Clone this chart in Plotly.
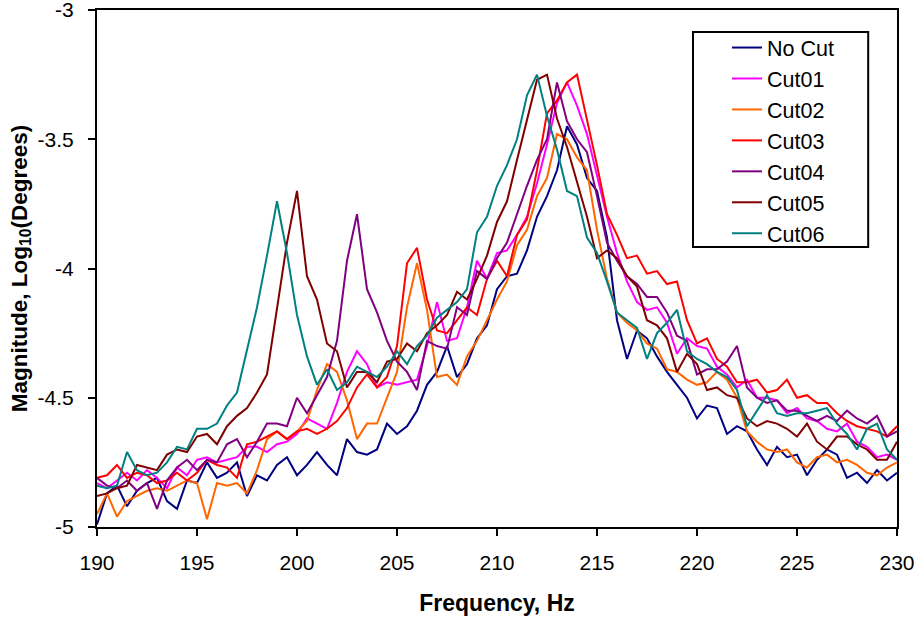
import plotly.graph_objects as go

# Frequency grid (Hz)
freq = [190 + 0.5 * i for i in range(81)]

no_cut = [
    -4.99, -4.87, -4.84, -4.92, -4.86, -4.83, -4.81, -4.90, -4.93, -4.82,
    -4.83, -4.75, -4.81, -4.79, -4.75, -4.88, -4.80, -4.82, -4.76, -4.73,
    -4.80, -4.76, -4.71, -4.76, -4.80, -4.66, -4.71, -4.72, -4.70, -4.60,
    -4.64, -4.61, -4.55, -4.45, -4.40, -4.30, -4.42, -4.37, -4.27, -4.22,
    -4.08, -4.03, -4.02, -3.93, -3.80, -3.72, -3.62, -3.45, -3.52, -3.65,
    -3.70, -3.88, -4.20, -4.35, -4.24, -4.27, -4.34, -4.40, -4.45, -4.50,
    -4.58, -4.53, -4.54, -4.64, -4.61, -4.63, -4.70, -4.76, -4.69, -4.73,
    -4.72, -4.80, -4.74, -4.70, -4.72, -4.81, -4.79, -4.83, -4.78, -4.82,
    -4.79]

cut01 = [
    -4.83, -4.85, -4.82, -4.79, -4.82, -4.78, -4.81, -4.85, -4.77, -4.80,
    -4.74, -4.73, -4.75, -4.74, -4.73, -4.69, -4.69, -4.71, -4.68, -4.67,
    -4.64, -4.58, -4.60, -4.62, -4.52, -4.40, -4.32, -4.37, -4.46, -4.44,
    -4.45, -4.44, -4.43, -4.30, -4.13, -4.28, -4.27, -4.15, -3.97, -4.04,
    -3.94, -3.93, -3.87, -3.80, -3.67, -3.52, -3.36, -3.28, -3.37, -3.48,
    -3.64, -3.80, -3.94, -4.05, -4.13, -4.16, -4.15, -4.21, -4.33, -4.27,
    -4.30, -4.31, -4.38, -4.41, -4.46, -4.43, -4.50, -4.50, -4.51, -4.56,
    -4.54, -4.58, -4.59, -4.62, -4.63, -4.60, -4.67, -4.69, -4.73, -4.72,
    -4.74]

cut02 = [
    -4.95, -4.87, -4.96, -4.90, -4.88, -4.86, -4.85, -4.86, -4.84, -4.82,
    -4.83, -4.97, -4.83, -4.84, -4.83, -4.87, -4.78, -4.66, -4.63, -4.66,
    -4.63, -4.59, -4.47, -4.37, -4.40, -4.51, -4.66, -4.60, -4.60, -4.50,
    -4.40, -4.15, -3.98, -4.16, -4.42, -4.41, -4.45, -4.34, -4.28, -4.20,
    -4.12, -4.05, -3.91, -3.85, -3.72, -3.65, -3.48, -3.50, -3.57, -3.62,
    -3.85, -4.04, -4.17, -4.21, -4.24, -4.29, -4.31, -4.39, -4.40, -4.43,
    -4.45, -4.44, -4.40, -4.43, -4.50, -4.63, -4.67, -4.70, -4.71, -4.70,
    -4.75, -4.77, -4.73, -4.72, -4.75, -4.74, -4.76, -4.79, -4.80, -4.77,
    -4.75]

cut03 = [
    -4.81, -4.80, -4.76, -4.81, -4.79, -4.80, -4.83, -4.82, -4.79, -4.82,
    -4.79, -4.74, -4.76, -4.77, -4.81, -4.68, -4.67, -4.65, -4.63, -4.66,
    -4.63, -4.62, -4.64, -4.62, -4.59, -4.54, -4.46, -4.41, -4.46, -4.42,
    -4.30, -3.98, -3.92, -4.12, -4.24, -4.25, -4.20, -4.15, -4.18, -4.04,
    -3.97, -4.03, -3.87, -3.81, -3.62, -3.40, -3.35, -3.28, -3.25, -3.42,
    -3.60, -3.79, -3.87, -3.96, -3.95, -4.02, -4.01, -4.06, -4.05, -4.20,
    -4.29, -4.27, -4.35, -4.38, -4.44, -4.44, -4.43, -4.48, -4.47, -4.43,
    -4.50, -4.49, -4.52, -4.52, -4.56, -4.59, -4.61, -4.62, -4.63, -4.65,
    -4.61]

cut04 = [
    -4.81, -4.84, -4.85, -4.82, -4.86, -4.83, -4.93, -4.82, -4.77, -4.74,
    -4.78, -4.74, -4.75, -4.68, -4.66, -4.73, -4.67, -4.60, -4.60, -4.61,
    -4.50, -4.56, -4.49, -4.42, -4.28, -3.97, -3.79, -4.08, -4.17, -4.28,
    -4.36, -4.40, -4.47, -4.28, -4.30, -4.31, -4.15, -4.18, -4.01, -4.04,
    -3.96, -3.90, -3.79, -3.68, -3.58, -3.50, -3.28, -3.43, -3.50, -3.55,
    -3.72, -3.90, -3.97, -4.03, -4.06, -4.11, -4.11, -4.17, -4.26, -4.28,
    -4.41, -4.39, -4.39, -4.36, -4.30, -4.46, -4.50, -4.52, -4.51, -4.55,
    -4.55, -4.57, -4.59, -4.57, -4.59, -4.55, -4.58, -4.60, -4.57, -4.65,
    -4.63]

cut05 = [
    -4.88, -4.87, -4.85, -4.84, -4.76, -4.77, -4.78, -4.72, -4.70, -4.71,
    -4.65, -4.64, -4.68, -4.61, -4.57, -4.54, -4.48, -4.41, -4.15, -3.90,
    -3.70, -4.03, -4.12, -4.29, -4.32, -4.46, -4.40, -4.40, -4.44, -4.36,
    -4.35, -4.29, -4.32, -4.25, -4.22, -4.18, -4.09, -4.12, -4.04, -3.95,
    -3.82, -3.74, -3.58, -3.43, -3.27, -3.25, -3.42, -3.53, -3.66, -3.80,
    -3.96, -3.93, -3.96, -4.03, -4.07, -4.20, -4.22, -4.27, -4.40, -4.33,
    -4.37, -4.47, -4.46, -4.49, -4.50, -4.58, -4.61, -4.59, -4.60, -4.62,
    -4.65, -4.60, -4.67, -4.70, -4.65, -4.65, -4.68, -4.70, -4.74, -4.74,
    -4.67]

cut06 = [
    -4.84, -4.85, -4.84, -4.71, -4.78, -4.80, -4.79, -4.75, -4.69, -4.70,
    -4.62, -4.62, -4.60, -4.53, -4.48, -4.32, -4.15, -3.95, -3.74, -3.94,
    -4.18, -4.34, -4.45, -4.39, -4.47, -4.44, -4.38, -4.40, -4.42, -4.38,
    -4.32, -4.37, -4.30, -4.26, -4.19, -4.16, -4.13, -4.08, -3.86, -3.80,
    -3.68, -3.60, -3.50, -3.33, -3.25, -3.41, -3.54, -3.70, -3.72, -3.88,
    -3.94, -4.05, -4.17, -4.20, -4.23, -4.35, -4.25, -4.21, -4.16, -4.32,
    -4.35, -4.37, -4.40, -4.42, -4.47, -4.61, -4.55, -4.49, -4.56, -4.57,
    -4.56, -4.56, -4.55, -4.54, -4.60, -4.64, -4.70, -4.62, -4.60, -4.70,
    -4.74]

series_names = ["No Cut", "Cut01", "Cut02", "Cut03", "Cut04", "Cut05", "Cut06"]
series_values = [no_cut, cut01, cut02, cut03, cut04, cut05, cut06]
series_colors = ["#000080", "#FF00FF", "#FF6600", "#FF0000", "#800080", "#800000", "#008080"]

x_ticks = [190, 195, 200, 205, 210, 215, 220, 225, 230]
y_ticks = [-5, -4.5, -4, -3.5, -3]
y_tick_labels = ["-5", "-4.5", "-4", "-3.5", "-3"]

FONT = "Liberation Sans, Arial, sans-serif"

fig = go.Figure()
for name, vals, col in zip(series_names, series_values, series_colors):
    fig.add_trace(go.Scatter(x=freq, y=vals, mode="lines", name=name,
                             line=dict(color=col, width=2)))

fig.update_layout(
    width=919, height=619,
    margin=dict(l=97, r=22, t=10, b=92),
    paper_bgcolor="white", plot_bgcolor="white",
    font=dict(family=FONT, color="black", size=21),
    showlegend=True,
    legend=dict(x=0.7875, y=0.967, xanchor="left", yanchor="top",
                bgcolor="rgba(0,0,0,0)", borderwidth=0,
                font=dict(family=FONT, size=21.5, color="black")),
    xaxis=dict(range=[190, 230], tickvals=x_ticks, ticks="outside", ticklen=7,
               tickwidth=2, tickcolor="black", showline=True, linecolor="black",
               linewidth=2, mirror=True, showgrid=False, zeroline=False,
               automargin=False, ticklabeloverflow="allow",
               ticklabelstandoff=9,
               tickfont=dict(family=FONT, size=21),
               title=dict(text="<b>Frequency, Hz</b>", standoff=22,
                          font=dict(family=FONT, size=23))),
    yaxis=dict(range=[-5, -3], tickvals=y_ticks, ticktext=y_tick_labels,
               ticks="outside", ticklen=7, tickwidth=2, tickcolor="black",
               showline=True, linecolor="black", linewidth=2, mirror=True,
               showgrid=False, zeroline=False, automargin=False,
               ticklabeloverflow="allow", ticklabelstandoff=10,
               tickfont=dict(family=FONT, size=21),
               title=dict(text="<b>Magnitude, Log<sub>10</sub>(Degrees)</b>",
                          standoff=4, font=dict(family=FONT, size=22.5))),
    shapes=[dict(type="rect", xref="paper", yref="paper",
                 x0=0.745, x1=0.964, y0=0.5416, y1=0.9574,
                 line=dict(color="black", width=2), fillcolor="rgba(0,0,0,0)")],
)

fig.write_html("out.html", config={"displayModeBar": False},
               post_script="document.body.style.margin='0px';")
